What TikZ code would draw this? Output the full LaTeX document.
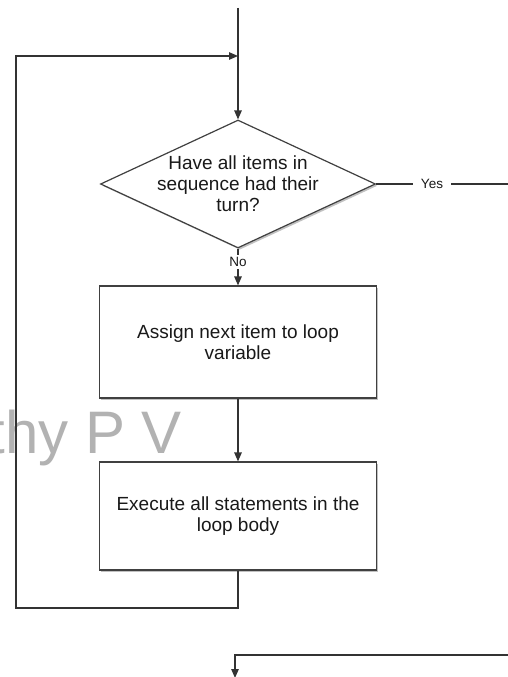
\documentclass[tikz,border=0pt]{standalone}
\usepackage{fontspec}
\setmainfont{Liberation Sans}
\usetikzlibrary{shapes.geometric,arrows.meta,shadows}
\begin{document}
\begin{tikzpicture}[x=1pt,y=-1pt,
  line/.style={draw=black!80,line width=1.2pt},
  arr/.style={line,-{Triangle[length=9pt,width=7.5pt]}},
  boxstyle/.style={draw=black!75,line width=1.2pt,fill=white,rectangle,inner sep=0pt,
     drop shadow={shadow xshift=1.8pt,shadow yshift=-1.8pt,opacity=.4,fill=black!60}},
  txt/.style={font=\fontsize{19}{21}\selectfont,text=black!90,align=center},
  lab/.style={font=\fontsize{13.5}{15}\selectfont,text=black!90,fill=white}]
\useasboundingbox[fill=white] (0,0) rectangle (508,677);
% watermark
\node[anchor=base east,inner sep=0pt,text=black!30,font=\fontsize{60}{60}\selectfont] (wm) at (182,453) {thy P V};
% shapes
\node[boxstyle,shape=diamond,minimum width=275pt,minimum height=128pt] (dec) at (238,184) {};
\node[txt] (dectext) at (dec.center) {Have all items in\\sequence had their\\turn?};
\node[boxstyle,minimum width=277pt,minimum height=112pt] (assign) at (238,342) {};
\node[txt] (assigntext) at (assign.center) {Assign next item to loop\\variable};
\node[boxstyle,minimum width=277pt,minimum height=108pt] (exec) at (238,516) {};
\node[txt] (exectext) at (exec.center) {Execute all statements in the\\loop body};
% coordinates
\coordinate (top) at (238,8);
\coordinate (merge) at (238,56);
\coordinate (lefttop) at (16,56);
\coordinate (leftbot) at (16,608);
\coordinate (execbot) at (238,608);
\coordinate (yesend) at (508,184);
\coordinate (botright) at (508,655);
\coordinate (botcorner) at (235,655);
\coordinate (botend) at (235,678);
% connectors
\draw[arr] (top) -- (dec.north);
\draw[arr] (exec.south) -- (execbot) -- (leftbot) -- (lefttop) -- (merge);
\draw[line] (dec.east) -- (yesend);
\node[lab,inner xsep=8pt] (yes) at (432,184) {Yes};
\draw[arr] (dec.south) -- (assign.north);
\node[lab,inner sep=2pt] (no) at (238,262) {No};
\draw[arr] (assign.south) -- (exec.north);
\draw[arr] (botright) -- (botcorner) -- (botend);
\end{tikzpicture}
\end{document}
